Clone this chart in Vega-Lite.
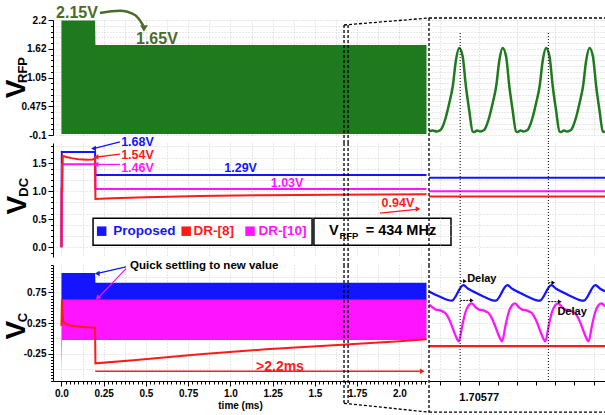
{
"$schema": "https://vega.github.io/schema/vega-lite/v6.json",
"background": "white",
"padding": {"left": 3, "top": 5, "right": 0, "bottom": 0},
"config": {
  "view": {"stroke": null},
  "font": "Liberation Sans",
  "axis": {"labelFont": "Liberation Sans", "labelFontWeight": "bold", "labelFontSize": 10, "labelColor": "#000", "tickColor": "#000", "domainColor": "#000", "gridColor": "#c4c4c4", "gridDash": [1, 2], "gridWidth": 0.8, "labelOverlap": false, "labelFlush": false, "labelPadding": 2, "titleFont": "Liberation Sans", "titleColor": "#000"}
},
"columns": 2,
"spacing": {"row": 8, "column": 2},
"bounds": "flush",
"concat": [
  {"width": 374, "height": 115,
   "encoding": {
    "x": {"field": "t", "type": "quantitative", "scale": {"domain": [-0.05, 2.163], "nice": false, "zero": false},
          "axis": {"labels": false, "ticks": false, "domain": false, "grid": true, "title": null, "values": [0,0.125,0.25,0.375,0.5,0.625,0.75,0.875,1,1.125,1.25,1.375,1.5,1.625,1.75,1.875,2,2.125]}},
    "y": {"field": "v", "type": "quantitative", "scale": {"domain": [-0.1, 2.2], "nice": false, "zero": false},
          "axis": {"title": null, "values": [-0.1,0.015,0.13,0.245,0.36,0.475,0.59,0.705,0.82,0.935,1.05,1.165,1.28,1.395,1.51,1.625,1.74,1.855,1.97,2.085,2.2],
                   "labelExpr": "datum.value == 1.625 ? '1.62' : (abs((datum.value + 0.1) / 0.575 - round((datum.value + 0.1) / 0.575)) < 0.01 ? '' + datum.value : '')",
                   "tickSize": {"condition": {"test": "abs((datum.value + 0.1) / 0.575 - round((datum.value + 0.1) / 0.575)) < 0.01", "value": 5}, "value": 2.5}}}
   },
   "layer": [
    {"data": {"values": [{"t": 0, "v": 2.19, "v2": -0.08}, {"t": 0.199, "v": 2.19, "v2": -0.08}, {"t": 0.201, "v": 1.7, "v2": -0.08}, {"t": 2.16, "v": 1.7, "v2": -0.08}]},
     "mark": {"type": "area", "color": "#1f7a1f", "opacity": 1}, "encoding": {"y2": {"field": "v2"}}},
    {"data": {"values": [{"t": 0.228, "v": 2.34}, {"t": 0.346, "v": 2.385}, {"t": 0.435, "v": 2.3}, {"t": 0.484, "v": 2.09}]},
     "mark": {"type": "line", "color": "#4b6a2a", "strokeWidth": 2.5, "interpolate": "monotone"}},
    {"data": {"values": [{"t": 0.488, "v": 2.03}]},
     "mark": {"type": "point", "shape": "triangle-down", "filled": true, "size": 60, "color": "#4b6a2a", "opacity": 1}},
    {"data": {"values": [{"t": 0.092, "v": 2.34, "txt": "2.15V"}, {"t": 0.565, "v": 1.83, "txt": "1.65V"}]},
     "mark": {"type": "text", "fontSize": 16, "fontWeight": "bold", "color": "#4b6a2a"}, "encoding": {"text": {"field": "txt"}}},
    {"data": {"values": [{"t": 1.672, "v": 2.1, "t2": 1.672, "v2": -0.26}, {"t": 1.696, "v": 2.1, "t2": 1.696, "v2": -0.26}, {"t": 1.672, "v": 2.1, "t2": 2.175, "v2": 2.24}]},
     "mark": {"type": "rule", "color": "#000", "strokeDash": [3, 2], "strokeWidth": 1.3}, "encoding": {"x2": {"field": "t2"}, "y2": {"field": "v2"}}},
    {"data": {"values": [{"t": -0.263, "v": 0.82, "txt": "V"}]},
     "mark": {"type": "text", "fontSize": 28, "fontWeight": "bold", "angle": 270, "color": "#000"}, "encoding": {"text": {"field": "txt"}}},
    {"data": {"values": [{"t": -0.226, "v": 1.2, "txt": "RFP"}]},
     "mark": {"type": "text", "fontSize": 13, "fontWeight": "bold", "angle": 270, "color": "#000"}, "encoding": {"text": {"field": "txt"}}}
   ]},
  {"width": 176, "height": 115,
   "encoding": {
    "x": {"field": "t", "type": "quantitative", "scale": {"domain": [-2.6, 6.6], "nice": false, "zero": false},
          "axis": {"labels": false, "ticks": false, "domain": false, "grid": true, "title": null, "values": [-2, 0, 2, 4, 6]}},
    "y": {"field": "v", "type": "quantitative", "scale": {"domain": [-0.1, 2.2], "nice": false, "zero": false},
          "axis": {"labels": false, "ticks": false, "domain": false, "grid": true, "title": null, "values": [-0.1,0.015,0.13,0.245,0.36,0.475,0.59,0.705,0.82,0.935,1.05,1.165,1.28,1.395,1.51,1.625,1.74,1.855,1.97,2.085,2.2]}}
   },
   "layer": [
    {"data": {"values": [
      {"t": -2.6, "v": -0.03}, {"t": -2.4, "v": -0.01}, {"t": -2.2, "v": -0.03}, {"t": -2.0, "v": 0.0},
      {"t": -1.885, "v": 0.07}, {"t": -1.71, "v": 0.27}, {"t": -1.54, "v": 0.54}, {"t": -1.36, "v": 0.87}, {"t": -1.19, "v": 1.4}, {"t": -1.02, "v": 1.64}, {"t": -0.84, "v": 1.47}, {"t": -0.67, "v": 0.87}, {"t": -0.5, "v": 0.4}, {"t": -0.32, "v": -0.03}, {"t": -0.24, "v": -0.04}, {"t": -0.08, "v": -0.01}, {"t": 0.07, "v": -0.03}, {"t": 0.28, "v": 0.0},
      {"t": 0.385, "v": 0.07}, {"t": 0.56, "v": 0.27}, {"t": 0.73, "v": 0.54}, {"t": 0.91, "v": 0.87}, {"t": 1.08, "v": 1.4}, {"t": 1.25, "v": 1.64}, {"t": 1.43, "v": 1.47}, {"t": 1.6, "v": 0.87}, {"t": 1.77, "v": 0.4}, {"t": 1.95, "v": -0.03}, {"t": 2.03, "v": -0.04}, {"t": 2.19, "v": -0.01}, {"t": 2.34, "v": -0.03}, {"t": 2.55, "v": 0.0},
      {"t": 2.655, "v": 0.07}, {"t": 2.83, "v": 0.27}, {"t": 3.0, "v": 0.54}, {"t": 3.18, "v": 0.87}, {"t": 3.35, "v": 1.4}, {"t": 3.52, "v": 1.64}, {"t": 3.7, "v": 1.47}, {"t": 3.87, "v": 0.87}, {"t": 4.04, "v": 0.4}, {"t": 4.22, "v": -0.03}, {"t": 4.3, "v": -0.04}, {"t": 4.46, "v": -0.01}, {"t": 4.61, "v": -0.03}, {"t": 4.82, "v": 0.0},
      {"t": 4.925, "v": 0.07}, {"t": 5.1, "v": 0.27}, {"t": 5.27, "v": 0.54}, {"t": 5.45, "v": 0.87}, {"t": 5.62, "v": 1.4}, {"t": 5.79, "v": 1.64}, {"t": 5.97, "v": 1.47}, {"t": 6.14, "v": 0.87}, {"t": 6.31, "v": 0.4}, {"t": 6.49, "v": -0.03}, {"t": 6.6, "v": -0.04}]},
     "mark": {"type": "line", "color": "#1f7a1f", "strokeWidth": 2.5, "interpolate": "monotone"}},
    {"data": {"values": [{"t": -0.97, "v": 1.94, "t2": -0.97, "v2": -0.26}, {"t": 3.64, "v": 1.94, "t2": 3.64, "v2": -0.26}]},
     "mark": {"type": "rule", "color": "#000", "strokeDash": [1, 2], "strokeWidth": 1}, "encoding": {"x2": {"field": "t2"}, "y2": {"field": "v2"}}},
    {"data": {"values": [{"t": -2.6, "v": 2.24, "t2": 6.6, "v2": 2.24}, {"t": -2.6, "v": 2.24, "t2": -2.6, "v2": -0.26}]},
     "mark": {"type": "rule", "color": "#000", "strokeDash": [3, 2], "strokeWidth": 1.3}, "encoding": {"x2": {"field": "t2"}, "y2": {"field": "v2"}}}
   ]},
  {"width": 374, "height": 114,
   "encoding": {
    "x": {"field": "t", "type": "quantitative", "scale": {"domain": [-0.05, 2.163], "nice": false, "zero": false},
          "axis": {"labels": false, "ticks": false, "domain": false, "grid": true, "title": null, "values": [0,0.125,0.25,0.375,0.5,0.625,0.75,0.875,1,1.125,1.25,1.375,1.5,1.625,1.75,1.875,2,2.125]}},
    "y": {"field": "v", "type": "quantitative", "scale": {"domain": [-0.175, 1.86], "nice": false, "zero": false},
          "axis": {"title": null, "values": [-0.1,0,0.1,0.2,0.3,0.4,0.5,0.6,0.7,0.8,0.9,1,1.1,1.2,1.3,1.4,1.5,1.6,1.7,1.8],
                   "labelExpr": "(datum.value >= 0 && abs(datum.value * 2 - round(datum.value * 2)) < 0.001) ? format(datum.value, '.1f') : ''",
                   "tickSize": {"condition": {"test": "datum.value >= 0 && abs(datum.value * 2 - round(datum.value * 2)) < 0.001", "value": 5}, "value": 2.5},
                   "gridOpacity": {"condition": {"test": "abs(datum.value * 5 - round(datum.value * 5)) < 0.001", "value": 1}, "value": 0}}}
   },
   "layer": [
    {"data": {"values": [{"t": 0, "v": 0}, {"t": 0.002, "v": 1.7}, {"t": 0.199, "v": 1.7}, {"t": 0.201, "v": 1.29}, {"t": 2.16, "v": 1.29}]},
     "mark": {"type": "line", "color": "#1414ff", "strokeWidth": 2}},
    {"data": {"values": [{"t": 0, "v": 0}, {"t": 0.003, "v": 1.48}, {"t": 0.199, "v": 1.48}, {"t": 0.201, "v": 1.04}, {"t": 2.16, "v": 1.04}]},
     "mark": {"type": "line", "color": "#ff14ff", "strokeWidth": 2}},
    {"data": {"values": [{"t": 0, "v": 0}, {"t": 0.001, "v": 1.07}, {"t": 0.004, "v": 0.98}, {"t": 0.008, "v": 1.63}, {"t": 0.03, "v": 1.61}, {"t": 0.06, "v": 1.59}, {"t": 0.1, "v": 1.57}, {"t": 0.15, "v": 1.56}, {"t": 0.185, "v": 1.565}, {"t": 0.199, "v": 1.59}, {"t": 0.201, "v": 0.86}, {"t": 0.3, "v": 0.872}, {"t": 0.5, "v": 0.89}, {"t": 0.82, "v": 0.913}, {"t": 1.2, "v": 0.928}, {"t": 1.6, "v": 0.938}, {"t": 2.16, "v": 0.946}]},
     "mark": {"type": "line", "color": "#ff1a1a", "strokeWidth": 2}},
    {"data": {"values": [{"t": 0.187, "t2": 1.483, "v": 0.518, "v2": 0.036}, {"t": 1.494, "t2": 2.305, "v": 0.518, "v2": 0.036}]},
     "mark": {"type": "rect", "fill": "white", "stroke": "#000", "strokeWidth": 1.5}, "encoding": {"x2": {"field": "t2"}, "y2": {"field": "v2"}}},
    {"data": {"values": [{"t": 0.238, "v": 0.286, "s": "P"}, {"t": 0.738, "v": 0.286, "s": "D8"}, {"t": 1.116, "v": 0.286, "s": "D10"}]},
     "mark": {"type": "point", "shape": "square", "filled": true, "size": 90, "opacity": 1},
     "encoding": {"color": {"field": "s", "type": "nominal", "scale": {"domain": ["P", "D8", "D10", "K"], "range": ["#1414ff", "#ff1a1a", "#ff14ff", "#000000"]}, "legend": null}}},
    {"data": {"values": [{"t": 0.307, "v": 0.286, "txt": "Proposed", "s": "P"}, {"t": 0.782, "v": 0.286, "txt": "DR-[8]", "s": "D8"}, {"t": 1.166, "v": 0.286, "txt": "DR-[10]", "s": "D10"}]},
     "mark": {"type": "text", "fontSize": 13.5, "fontWeight": "bold", "align": "left", "baseline": "middle"},
     "encoding": {"text": {"field": "txt"}, "color": {"field": "s", "type": "nominal", "scale": {"domain": ["P", "D8", "D10", "K"], "range": ["#1414ff", "#ff1a1a", "#ff14ff", "#000000"]}, "legend": null}}},
    {"data": {"values": [{"t": 1.583, "v": 0.286, "txt": "V"}, {"t": 1.8, "v": 0.286, "txt": "= 434 MHz"}]},
     "mark": {"type": "text", "fontSize": 14.5, "fontWeight": "bold", "align": "left", "baseline": "middle", "color": "#000"}, "encoding": {"text": {"field": "txt"}}},
    {"data": {"values": [{"t": 1.645, "v": 0.2, "txt": "RFP"}]},
     "mark": {"type": "text", "fontSize": 9.5, "fontWeight": "bold", "align": "left", "baseline": "middle", "color": "#000"}, "encoding": {"text": {"field": "txt"}}},
    {"data": {"values": [{"id": "a", "t": 0.346, "v": 1.88, "s": "P"}, {"id": "a", "t": 0.195, "v": 1.765, "s": "P"}, {"id": "b", "t": 0.346, "v": 1.66, "s": "D8"}, {"id": "b", "t": 0.21, "v": 1.61, "s": "D8"}, {"id": "c", "t": 0.346, "v": 1.477, "s": "D10"}, {"id": "c", "t": 0.21, "v": 1.477, "s": "D10"}, {"id": "d", "t": 1.885, "v": 0.607, "s": "D8"}, {"id": "d", "t": 2.1, "v": 0.675, "s": "D8"}]},
     "mark": {"type": "line", "strokeWidth": 1.3},
     "encoding": {"detail": {"field": "id"}, "color": {"field": "s", "type": "nominal", "scale": {"domain": ["P", "D8", "D10", "K"], "range": ["#1414ff", "#ff1a1a", "#ff14ff", "#000000"]}, "legend": null}}},
    {"data": {"values": [{"t": 0.19, "v": 1.76, "s": "P", "dir": "L"}, {"t": 0.205, "v": 1.61, "s": "D8", "dir": "L"}, {"t": 0.205, "v": 1.477, "s": "D10", "dir": "L"}, {"t": 2.11, "v": 0.68, "s": "D8", "dir": "R"}]},
     "mark": {"type": "point", "filled": true, "size": 30, "opacity": 1},
     "encoding": {"shape": {"field": "dir", "type": "nominal", "scale": {"domain": ["L", "R", "D"], "range": ["triangle-left", "triangle-right", "triangle-down"]}, "legend": null},
                  "color": {"field": "s", "type": "nominal", "scale": {"domain": ["P", "D8", "D10", "K"], "range": ["#1414ff", "#ff1a1a", "#ff14ff", "#000000"]}, "legend": null}}},
    {"data": {"values": [{"t": 0.45, "v": 1.875, "txt": "1.68V", "s": "P"}, {"t": 0.45, "v": 1.643, "txt": "1.54V", "s": "D8"}, {"t": 0.45, "v": 1.41, "txt": "1.46V", "s": "D10"}, {"t": 1.06, "v": 1.41, "txt": "1.29V", "s": "P"}, {"t": 1.335, "v": 1.152, "txt": "1.03V", "s": "D10"}, {"t": 1.991, "v": 0.786, "txt": "0.94V", "s": "D8"}]},
     "mark": {"type": "text", "fontSize": 12.5, "fontWeight": "bold", "align": "center", "baseline": "middle"},
     "encoding": {"text": {"field": "txt"}, "color": {"field": "s", "type": "nominal", "scale": {"domain": ["P", "D8", "D10", "K"], "range": ["#1414ff", "#ff1a1a", "#ff14ff", "#000000"]}, "legend": null}}},
    {"data": {"values": [{"t": 1.672, "v": 1.86, "t2": 1.672, "v2": -0.318}, {"t": 1.696, "v": 1.86, "t2": 1.696, "v2": -0.318}]},
     "mark": {"type": "rule", "color": "#000", "strokeDash": [3, 2], "strokeWidth": 1.3}, "encoding": {"x2": {"field": "t2"}, "y2": {"field": "v2"}}},
    {"data": {"values": [{"t": -0.257, "v": 0.75, "txt": "V"}]},
     "mark": {"type": "text", "fontSize": 28, "fontWeight": "bold", "angle": 270, "color": "#000"}, "encoding": {"text": {"field": "txt"}}},
    {"data": {"values": [{"t": -0.224, "v": 1.07, "txt": "DC"}]},
     "mark": {"type": "text", "fontSize": 13, "fontWeight": "bold", "angle": 270, "color": "#000"}, "encoding": {"text": {"field": "txt"}}}
   ]},
  {"width": 176, "height": 114,
   "encoding": {
    "x": {"field": "t", "type": "quantitative", "scale": {"domain": [-2.6, 6.6], "nice": false, "zero": false},
          "axis": {"labels": false, "ticks": false, "domain": false, "grid": true, "title": null, "values": [-2, 0, 2, 4, 6]}},
    "y": {"field": "v", "type": "quantitative", "scale": {"domain": [-0.175, 1.86], "nice": false, "zero": false},
          "axis": {"labels": false, "ticks": false, "domain": false, "grid": true, "title": null, "values": [0,0.2,0.4,0.6,0.8,1,1.2,1.4,1.6,1.8]}}
   },
   "layer": [
    {"data": {"values": [{"t": -2.6, "v": 1.24}, {"t": 6.6, "v": 1.24}]}, "mark": {"type": "line", "color": "#1414ff", "strokeWidth": 2}},
    {"data": {"values": [{"t": -2.6, "v": 1.0}, {"t": 6.6, "v": 1.0}]}, "mark": {"type": "line", "color": "#ff14ff", "strokeWidth": 2}},
    {"data": {"values": [{"t": -2.6, "v": 0.905}, {"t": 6.6, "v": 0.905}]}, "mark": {"type": "line", "color": "#ff1a1a", "strokeWidth": 2}},
    {"data": {"values": [{"t": -0.97, "v": 1.86, "t2": -0.97, "v2": -0.318}, {"t": 3.64, "v": 1.86, "t2": 3.64, "v2": -0.318}]},
     "mark": {"type": "rule", "color": "#000", "strokeDash": [1, 2], "strokeWidth": 1}, "encoding": {"x2": {"field": "t2"}, "y2": {"field": "v2"}}},
    {"data": {"values": [{"t": -2.6, "v": 1.86, "t2": -2.6, "v2": -0.318}]},
     "mark": {"type": "rule", "color": "#000", "strokeDash": [3, 2], "strokeWidth": 1.3}, "encoding": {"x2": {"field": "t2"}, "y2": {"field": "v2"}}}
   ]},
  {"width": 374, "height": 116,
   "encoding": {
    "x": {"field": "t", "type": "quantitative", "scale": {"domain": [-0.05, 2.163], "nice": false, "zero": false},
          "axis": {"title": "time (ms)", "titleFontSize": 10, "titleFontWeight": "bold", "titlePadding": 2,
                   "values": [0,0.025,0.05,0.075,0.1,0.125,0.15,0.175,0.2,0.225,0.25,0.275,0.3,0.325,0.35,0.375,0.4,0.425,0.45,0.475,0.5,0.525,0.55,0.575,0.6,0.625,0.65,0.675,0.7,0.725,0.75,0.775,0.8,0.825,0.85,0.875,0.9,0.925,0.95,0.975,1,1.025,1.05,1.075,1.1,1.125,1.15,1.175,1.2,1.225,1.25,1.275,1.3,1.325,1.35,1.375,1.4,1.425,1.45,1.475,1.5,1.525,1.55,1.575,1.6,1.625,1.65,1.675,1.7,1.725,1.75,1.775,1.8,1.825,1.85,1.875,1.9,1.925,1.95,1.975,2,2.025,2.05,2.075,2.1,2.125,2.15],
                   "labelExpr": "abs(datum.value * 2 - round(datum.value * 2)) < 0.001 ? format(datum.value, '.1f') : (abs(datum.value * 4 - round(datum.value * 4)) < 0.001 ? format(datum.value, '.2f') : '')",
                   "tickSize": {"condition": {"test": "abs(datum.value * 4 - round(datum.value * 4)) < 0.001", "value": 5}, "value": 3},
                   "gridOpacity": {"condition": {"test": "abs(datum.value * 8 - round(datum.value * 8)) < 0.001", "value": 1}, "value": 0}}},
    "y": {"field": "v", "type": "quantitative", "scale": {"domain": [-0.7, 1.2], "nice": false, "zero": false},
          "axis": {"title": null, "values": [-0.7,-0.65,-0.6,-0.55,-0.5,-0.45,-0.4,-0.35,-0.3,-0.25,-0.2,-0.15,-0.1,-0.05,0,0.05,0.1,0.15,0.2,0.25,0.3,0.35,0.4,0.45,0.5,0.55,0.6,0.65,0.7,0.75,0.8,0.85,0.9,0.95,1,1.05,1.1,1.15,1.2],
                   "labelExpr": "abs((datum.value - 0.25) * 2 - round((datum.value - 0.25) * 2)) < 0.001 ? '' + datum.value : ''",
                   "tickSize": {"condition": {"test": "abs((datum.value - 0.25) * 2 - round((datum.value - 0.25) * 2)) < 0.001", "value": 5}, "value": 2.5},
                   "gridOpacity": {"condition": {"test": "abs(datum.value * 4 - round(datum.value * 4)) < 0.001", "value": 1}, "value": 0}}}
   },
   "layer": [
    {"data": {"values": [{"t": 0, "v": 1.07, "v2": 0.6}, {"t": 0.199, "v": 1.07, "v2": 0.6}, {"t": 0.201, "v": 0.91, "v2": 0.6}, {"t": 2.16, "v": 0.91, "v2": 0.6}]},
     "mark": {"type": "area", "color": "#1414ff", "opacity": 1}, "encoding": {"y2": {"field": "v2"}}},
    {"data": {"values": [{"t": 0, "v": 0.635, "v2": -0.52}, {"t": 0.004, "v": 0.635, "v2": -0.03}, {"t": 2.16, "v": 0.635, "v2": -0.03}]},
     "mark": {"type": "area", "color": "#ff14ff", "opacity": 1}, "encoding": {"y2": {"field": "v2"}}},
    {"data": {"values": [{"t": 0, "v": 0.2}, {"t": 0.003, "v": 0.64}, {"t": 0.006, "v": 0.4}, {"t": 0.011, "v": 0.27}, {"t": 0.031, "v": 0.23}, {"t": 0.06, "v": 0.205}, {"t": 0.13, "v": 0.186}, {"t": 0.194, "v": 0.172}, {"t": 0.199, "v": 0.17}, {"t": 0.201, "v": -0.41}, {"t": 0.425, "v": -0.36}, {"t": 0.82, "v": -0.26}, {"t": 1.21, "v": -0.18}, {"t": 1.61, "v": -0.115}, {"t": 2.0, "v": -0.05}, {"t": 2.16, "v": -0.015}]},
     "mark": {"type": "line", "color": "#ff1a1a", "strokeWidth": 2}},
    {"data": {"values": [{"id": "a", "t": 0.382, "v": 1.17, "s": "P"}, {"id": "a", "t": 0.22, "v": 1.065, "s": "P"}, {"id": "b", "t": 0.382, "v": 1.14, "s": "D10"}, {"id": "b", "t": 0.22, "v": 0.67, "s": "D10"}, {"id": "c", "t": 0.2, "v": -0.54, "s": "D8"}, {"id": "c", "t": 2.12, "v": -0.54, "s": "D8"}]},
     "mark": {"type": "line", "strokeWidth": 1.3},
     "encoding": {"detail": {"field": "id"}, "color": {"field": "s", "type": "nominal", "scale": {"domain": ["P", "D8", "D10", "K"], "range": ["#1414ff", "#ff1a1a", "#ff14ff", "#000000"]}, "legend": null}}},
    {"data": {"values": [{"t": 0.212, "v": 1.06, "s": "P", "dir": "L"}, {"t": 2.135, "v": -0.54, "s": "D8", "dir": "R"}]},
     "mark": {"type": "point", "filled": true, "size": 30, "opacity": 1},
     "encoding": {"shape": {"field": "dir", "type": "nominal", "scale": {"domain": ["L", "R", "D"], "range": ["triangle-left", "triangle-right", "triangle-down"]}, "legend": null},
                  "color": {"field": "s", "type": "nominal", "scale": {"domain": ["P", "D8", "D10", "K"], "range": ["#1414ff", "#ff1a1a", "#ff14ff", "#000000"]}, "legend": null}}},
    {"data": {"values": [{"t": 0.214, "v": 0.66}]},
     "mark": {"type": "point", "shape": "triangle-down", "angle": 43, "filled": true, "size": 30, "opacity": 1, "color": "#ff14ff"}},
    {"data": {"values": [{"t": 0.406, "v": 1.18, "txt": "Quick settling to new value"}]},
     "mark": {"type": "text", "fontSize": 11.5, "fontWeight": "bold", "align": "left", "baseline": "middle", "color": "#000"}, "encoding": {"text": {"field": "txt"}}},
    {"data": {"values": [{"t": 1.293, "v": -0.475, "txt": ">2.2ms"}]},
     "mark": {"type": "text", "fontSize": 14, "fontWeight": "bold", "align": "center", "baseline": "middle", "color": "#ff1a1a"}, "encoding": {"text": {"field": "txt"}}},
    {"data": {"values": [{"t": 1.672, "v": 1.2, "t2": 1.672, "v2": -1.065}, {"t": 1.696, "v": 1.2, "t2": 1.696, "v2": -1.065}, {"t": 1.672, "v": -1.065, "t2": 2.175, "v2": -1.21}]},
     "mark": {"type": "rule", "color": "#000", "strokeDash": [3, 2], "strokeWidth": 1.3}, "encoding": {"x2": {"field": "t2"}, "y2": {"field": "v2"}}},
    {"data": {"values": [{"t": -0.263, "v": 0.132, "txt": "V"}]},
     "mark": {"type": "text", "fontSize": 28, "fontWeight": "bold", "angle": 270, "color": "#000"}, "encoding": {"text": {"field": "txt"}}},
    {"data": {"values": [{"t": -0.229, "v": 0.34, "txt": "C"}]},
     "mark": {"type": "text", "fontSize": 13, "fontWeight": "bold", "angle": 270, "color": "#000"}, "encoding": {"text": {"field": "txt"}}}
   ]},
  {"width": 176, "height": 116,
   "encoding": {
    "x": {"field": "t", "type": "quantitative", "scale": {"domain": [-2.6, 6.6], "nice": false, "zero": false},
          "axis": {"title": null, "values": [-2, -1, 0, 1, 2, 3, 4, 5, 6], "labelExpr": "datum.value == 0 ? '1.70577' : ''", "labelFontSize": 11, "tickSize": 4, "labelPadding": 6,
                   "gridOpacity": {"condition": {"test": "abs(datum.value / 2 - round(datum.value / 2)) < 0.001", "value": 1}, "value": 0}}},
    "y": {"field": "v", "type": "quantitative", "scale": {"domain": [-0.7, 1.2], "nice": false, "zero": false},
          "axis": {"labels": false, "ticks": false, "domain": false, "grid": true, "title": null, "values": [-0.5, -0.25, 0, 0.25, 0.5, 0.75, 1]}}
   },
   "layer": [
    {"data": {"values": [{"t": -2.6, "v": 0.765}, {"t": -2.03, "v": 0.68}, {"t": -1.42, "v": 0.615}, {"t": -0.8, "v": 0.87}, {"t": -0.55, "v": 0.81}, {"t": -0.25, "v": 0.76}, {"t": 0.27, "v": 0.68}, {"t": 0.88, "v": 0.615}, {"t": 1.5, "v": 0.87}, {"t": 1.75, "v": 0.81}, {"t": 2.05, "v": 0.76}, {"t": 2.57, "v": 0.68}, {"t": 3.18, "v": 0.615}, {"t": 3.8, "v": 0.87}, {"t": 4.05, "v": 0.81}, {"t": 4.35, "v": 0.76}, {"t": 4.87, "v": 0.68}, {"t": 5.48, "v": 0.615}, {"t": 6.1, "v": 0.87}, {"t": 6.35, "v": 0.81}, {"t": 6.6, "v": 0.77}]},
     "mark": {"type": "line", "color": "#1414ff", "strokeWidth": 2.3, "interpolate": "monotone"}},
    {"data": {"values": [
      {"t": -2.6, "v": 0.55}, {"t": -2.43, "v": 0.51}, {"t": -2.25, "v": 0.47}, {"t": -2.08, "v": 0.46}, {"t": -1.9, "v": 0.44}, {"t": -1.74, "v": 0.41}, {"t": -1.56, "v": 0.32}, {"t": -1.39, "v": 0.19}, {"t": -1.22, "v": 0.05},
      {"t": -1.04, "v": -0.05}, {"t": -0.86, "v": 0.21}, {"t": -0.69, "v": 0.43}, {"t": -0.52, "v": 0.54}, {"t": -0.36, "v": 0.57}, {"t": -0.17, "v": 0.51}, {"t": 0.01, "v": 0.47}, {"t": 0.18, "v": 0.46}, {"t": 0.36, "v": 0.44}, {"t": 0.52, "v": 0.41}, {"t": 0.7, "v": 0.32}, {"t": 0.87, "v": 0.19}, {"t": 1.04, "v": 0.05},
      {"t": 1.22, "v": -0.05}, {"t": 1.4, "v": 0.21}, {"t": 1.57, "v": 0.43}, {"t": 1.74, "v": 0.54}, {"t": 1.9, "v": 0.57}, {"t": 2.09, "v": 0.51}, {"t": 2.27, "v": 0.47}, {"t": 2.44, "v": 0.46}, {"t": 2.62, "v": 0.44}, {"t": 2.78, "v": 0.41}, {"t": 2.96, "v": 0.32}, {"t": 3.13, "v": 0.19}, {"t": 3.3, "v": 0.05},
      {"t": 3.48, "v": -0.05}, {"t": 3.66, "v": 0.21}, {"t": 3.83, "v": 0.43}, {"t": 4.0, "v": 0.54}, {"t": 4.16, "v": 0.57}, {"t": 4.35, "v": 0.51}, {"t": 4.53, "v": 0.47}, {"t": 4.7, "v": 0.46}, {"t": 4.88, "v": 0.44}, {"t": 5.04, "v": 0.41}, {"t": 5.22, "v": 0.32}, {"t": 5.39, "v": 0.19}, {"t": 5.56, "v": 0.05},
      {"t": 5.74, "v": -0.05}, {"t": 5.92, "v": 0.21}, {"t": 6.09, "v": 0.43}, {"t": 6.26, "v": 0.54}, {"t": 6.42, "v": 0.57}, {"t": 6.6, "v": 0.52}]},
     "mark": {"type": "line", "color": "#ff14ff", "strokeWidth": 2.3, "interpolate": "monotone"}},
    {"data": {"values": [{"t": -2.6, "v": -0.13}, {"t": 6.6, "v": -0.13}]}, "mark": {"type": "line", "color": "#ff1a1a", "strokeWidth": 2.3}},
    {"data": {"values": [{"t": -0.97, "v": 1.2, "t2": -0.97, "v2": -0.7}, {"t": 3.64, "v": 1.2, "t2": 3.64, "v2": -0.7}]},
     "mark": {"type": "rule", "color": "#000", "strokeDash": [1, 2], "strokeWidth": 1}, "encoding": {"x2": {"field": "t2"}, "y2": {"field": "v2"}}},
    {"data": {"values": [{"id": "a", "t": -0.97, "v": 0.935}, {"id": "a", "t": -0.76, "v": 0.935}, {"id": "b", "t": -0.97, "v": 0.62}, {"id": "b", "t": -0.4, "v": 0.62}, {"id": "c", "t": 3.64, "v": 0.91}, {"id": "c", "t": 3.86, "v": 0.91}, {"id": "d", "t": 3.64, "v": 0.6}, {"id": "d", "t": 4.2, "v": 0.6}]},
     "mark": {"type": "line", "color": "#000", "strokeWidth": 1, "strokeDash": [2, 1]}, "encoding": {"detail": {"field": "id"}}},
    {"data": {"values": [{"t": -0.72, "v": 0.935}, {"t": -0.36, "v": 0.62}, {"t": 3.9, "v": 0.91}, {"t": 4.24, "v": 0.6}]},
     "mark": {"type": "point", "shape": "triangle-right", "filled": true, "size": 18, "color": "#000", "opacity": 1}},
    {"data": {"values": [{"t": 0.16, "v": 0.97, "txt": "Delay"}, {"t": 4.88, "v": 0.43, "txt": "Delay"}]},
     "mark": {"type": "text", "fontSize": 11, "fontWeight": "bold", "align": "center", "baseline": "middle", "color": "#000"}, "encoding": {"text": {"field": "txt"}}},
    {"data": {"values": [{"t": -2.6, "v": 1.2, "t2": -2.6, "v2": -1.21}, {"t": -2.6, "v": -1.21, "t2": 6.6, "v2": -1.21}]},
     "mark": {"type": "rule", "color": "#000", "strokeDash": [3, 2], "strokeWidth": 1.3}, "encoding": {"x2": {"field": "t2"}, "y2": {"field": "v2"}}}
   ]}
]
}
